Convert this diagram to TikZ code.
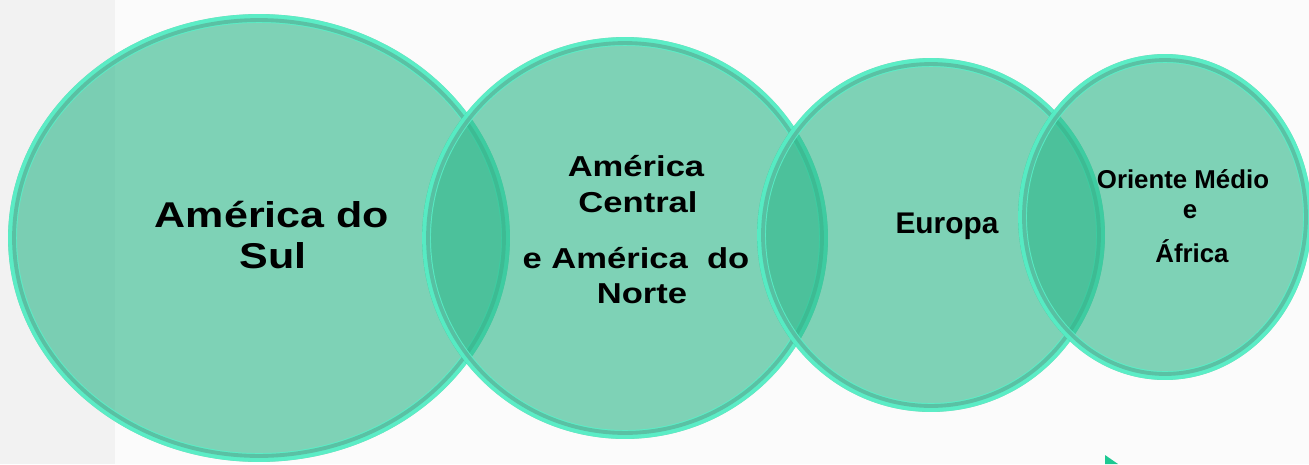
\documentclass[tikz,border=0pt]{standalone}
\usepackage{fontspec}
\setmainfont{Liberation Sans}
\usepackage{graphicx}

\definecolor{verdezona}{RGB}{43,183,137}
\definecolor{verdeagua}{RGB}{88,240,200}
\definecolor{cinzaborda}{RGB}{90,122,110}
\definecolor{fundo}{RGB}{251,251,251}
\definecolor{faixa}{RGB}{242,242,242}
\definecolor{seta}{RGB}{29,201,146}

\tikzset{
  zona/.style={fill=verdezona, fill opacity=0.6},
  aro/.style={draw=verdeagua, line width=5pt, draw opacity=0.9},
  sombra/.style={draw=cinzaborda, line width=2.2pt, draw opacity=0.38, yshift=3.4pt},
  rotulo/.style={anchor=base, inner sep=0pt, font=\bfseries},
}

\newcommand{\largo}[1]{\scalebox{1.2}[1]{#1}}

\begin{document}
\begin{tikzpicture}[x=0.02cm, y=-0.02cm]
            \useasboundingbox (0,0) rectangle (1309,464);
            \fill[fundo] (0,0) rectangle (1309,464);
            \fill[faixa] (0,0) rectangle (115,464);

            \coordinate (SUL) at (259,238);
            \coordinate (CEN) at (625,238);
            \coordinate (EUR) at (931,235);
            \coordinate (ORI) at (1165,217);

            \fill[zona] (SUL) ellipse [x radius=5.02cm, y radius=4.48cm];
            \draw[aro] (SUL) ellipse [x radius=4.93cm, y radius=4.39cm];
            \draw[sombra] (SUL) ellipse [x radius=4.90cm, y radius=4.36cm];

            \fill[zona] (CEN) ellipse [x radius=4.06cm, y radius=4.02cm];
            \draw[aro] (CEN) ellipse [x radius=3.97cm, y radius=3.93cm];
            \draw[sombra] (CEN) ellipse [x radius=3.94cm, y radius=3.90cm];

            \fill[zona] (EUR) ellipse [x radius=3.48cm, y radius=3.54cm];
            \draw[aro] (EUR) ellipse [x radius=3.39cm, y radius=3.45cm];
            \draw[sombra] (EUR) ellipse [x radius=3.36cm, y radius=3.42cm];

            \fill[zona] (ORI) ellipse [x radius=2.94cm, y radius=3.26cm];
            \draw[aro] (ORI) ellipse [x radius=2.85cm, y radius=3.17cm];
            \draw[sombra] (ORI) ellipse [x radius=2.82cm, y radius=3.14cm];

            % textos
            \node[rotulo, font=\bfseries\fontsize{20.4}{24}\selectfont] (S1) at (272,227) {\largo{América do}};
            \node[rotulo, font=\bfseries\fontsize{20.4}{24}\selectfont] (S2) at (273,268) {\largo{Sul}};

            \node[rotulo, font=\bfseries\fontsize{16.4}{20}\selectfont] (C1) at (636,176) {\largo{América}};
            \node[rotulo, font=\bfseries\fontsize{16.4}{20}\selectfont] (C2) at (638,212) {\largo{Central}};
            \node[rotulo, font=\bfseries\fontsize{16.4}{20}\selectfont] (C3) at (636,268) {\largo{e América\ \ do}};
            \node[rotulo, font=\bfseries\fontsize{16.4}{20}\selectfont] (C4) at (642,303) {\largo{Norte}};

            \node[rotulo, font=\bfseries\fontsize{17}{20}\selectfont] (E1) at (947,233) {Europa};

            \node[rotulo, font=\bfseries\fontsize{14.7}{18}\selectfont] (O1) at (1183,188) {Oriente Médio};
            \node[rotulo, font=\bfseries\fontsize{14.7}{18}\selectfont] (O2) at (1190,218) {e};
            \node[rotulo, font=\bfseries\fontsize{14.7}{18}\selectfont] (O3) at (1192,262) {África};

            \fill[seta] (1105,455) -- (1118,464) -- (1105,464) -- cycle;
          \end{tikzpicture}
\end{document}
